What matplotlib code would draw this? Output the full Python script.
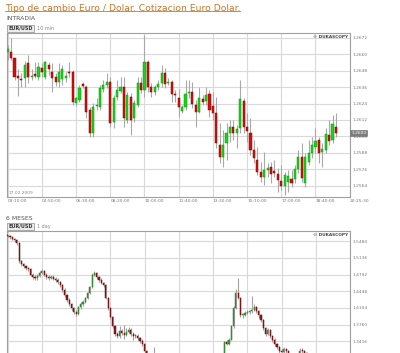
import matplotlib
matplotlib.use("Agg")
import matplotlib.pyplot as plt
import matplotlib.transforms as mtrans
from matplotlib.lines import Line2D
import numpy as np

# ---------------- INTRADIA: EUR/USD 10 min candles ----------------
intra_open = [1.26620, 1.26620, 1.26571, 1.26442, 1.26422, 1.26425, 1.26534, 1.26432, 1.26454, 1.26437,
              1.26503, 1.26437, 1.26522, 1.26473, 1.26432, 1.26400, 1.26417, 1.26430, 1.26473, 1.26473,
              1.26242, 1.26266, 1.26383, 1.26364, 1.26193, 1.26027, 1.26222, 1.26217, 1.26347, 1.26376,
              1.26400, 1.26108, 1.26291, 1.26335, 1.26359, 1.26120, 1.26291, 1.26132, 1.26230, 1.26393,
              1.26339, 1.26542, 1.26359, 1.26327, 1.26359, 1.26388, 1.26461, 1.26393, 1.26400, 1.26310,
              1.26278, 1.26188, 1.26213, 1.26315, 1.26322, 1.26230, 1.26181, 1.26271, 1.26261, 1.26310,
              1.26222, 1.26169, 1.25937, 1.25847, 1.25950, 1.26027, 1.26071, 1.26023, 1.26059, 1.26259,
              1.26071, 1.26027, 1.25901, 1.25828, 1.25742, 1.25701, 1.25754, 1.25779, 1.25750, 1.25725,
              1.25676, 1.25640, 1.25669, 1.25689, 1.25686, 1.25759, 1.25852, 1.25657, 1.25815, 1.25876,
              1.25925, 1.25974, 1.25888, 1.25901, 1.26010, 1.25974, 1.26071]
intra_high = [1.26668, 1.26717, 1.26576, 1.26490, 1.26461, 1.26554, 1.26595, 1.26490, 1.26546, 1.26546,
              1.26534, 1.26549, 1.26546, 1.26534, 1.26466, 1.26534, 1.26522, 1.26473, 1.26546, 1.26486,
              1.26291, 1.26376, 1.26400, 1.26376, 1.26217, 1.26242, 1.26278, 1.26376, 1.26412, 1.26461,
              1.26437, 1.26303, 1.26412, 1.26437, 1.26437, 1.26327, 1.26315, 1.26266, 1.26437, 1.26437,
              1.26741, 1.26559, 1.26388, 1.26376, 1.26412, 1.26522, 1.26498, 1.26425, 1.26412, 1.26339,
              1.26344, 1.26230, 1.26412, 1.26412, 1.26400, 1.26266, 1.26364, 1.26303, 1.26364, 1.26339,
              1.26327, 1.26291, 1.26096, 1.26047, 1.26096, 1.26120, 1.26120, 1.26084, 1.26412, 1.26278,
              1.26169, 1.26132, 1.25974, 1.25925, 1.25815, 1.25888, 1.25803, 1.25815, 1.25828, 1.25767,
              1.25791, 1.25742, 1.25754, 1.25754, 1.25791, 1.25901, 1.25949, 1.25876, 1.25974, 1.25998,
              1.26059, 1.25998, 1.25949, 1.26059, 1.26120, 1.26157, 1.26169]
intra_low = [1.26559, 1.26559, 1.26412, 1.26296, 1.26359, 1.26364, 1.26388, 1.26412, 1.26425, 1.26412,
             1.26437, 1.26417, 1.26449, 1.26327, 1.26369, 1.26359, 1.26376, 1.26400, 1.26437, 1.26230,
             1.26222, 1.26254, 1.26352, 1.26132, 1.25998, 1.25998, 1.26193, 1.26193, 1.26327, 1.26352,
             1.26071, 1.26059, 1.26266, 1.26315, 1.26071, 1.26096, 1.26010, 1.26108, 1.26217, 1.26315,
             1.26291, 1.26327, 1.26291, 1.26303, 1.26339, 1.26364, 1.26352, 1.26376, 1.26254, 1.26254,
             1.26144, 1.26169, 1.26193, 1.26278, 1.26205, 1.26071, 1.26169, 1.26230, 1.26230, 1.26144,
             1.26120, 1.25913, 1.25803, 1.25779, 1.25828, 1.25962, 1.25974, 1.25913, 1.26023, 1.26023,
             1.25962, 1.25864, 1.25803, 1.25718, 1.25669, 1.25645, 1.25706, 1.25657, 1.25706, 1.25596,
             1.25608, 1.25572, 1.25596, 1.25633, 1.25657, 1.25730, 1.25669, 1.25633, 1.25791, 1.25840,
             1.25876, 1.25803, 1.25779, 1.25876, 1.25937, 1.25950, 1.25998]
intra_close = [1.26637, 1.26571, 1.26437, 1.26430, 1.26412, 1.26522, 1.26437, 1.26442, 1.26444, 1.26505,
               1.26473, 1.26542, 1.26493, 1.26430, 1.26400, 1.26473, 1.26490, 1.26437, 1.26461, 1.26254,
               1.26278, 1.26352, 1.26369, 1.26181, 1.26027, 1.26213, 1.26230, 1.26352, 1.26376, 1.26400,
               1.26096, 1.26278, 1.26339, 1.26359, 1.26132, 1.26303, 1.26120, 1.26242, 1.26393, 1.26339,
               1.26542, 1.26364, 1.26327, 1.26359, 1.26383, 1.26466, 1.26383, 1.26400, 1.26310, 1.26303,
               1.26213, 1.26213, 1.26310, 1.26322, 1.26237, 1.26176, 1.26278, 1.26254, 1.26303, 1.26193,
               1.26174, 1.25950, 1.25852, 1.25937, 1.26027, 1.26071, 1.26023, 1.26052, 1.26271, 1.26071,
               1.26042, 1.25901, 1.25840, 1.25742, 1.25706, 1.25754, 1.25767, 1.25725, 1.25730, 1.25681,
               1.25640, 1.25718, 1.25713, 1.25662, 1.25759, 1.25852, 1.25694, 1.25852, 1.25876, 1.25937,
               1.25969, 1.25881, 1.25906, 1.26018, 1.25969, 1.26088, 1.26027]
intra_times = ["03:10:00", "04:50:00", "06:30:00", "08:20:00", "10:00:00", "11:40:00",
               "13:30:00", "15:10:00", "17:00:00", "18:40:00", "20:25:30"]
intra_yticks = [1.2564, 1.2576, 1.2588, 1.2600, 1.2612, 1.2624, 1.2636, 1.2648, 1.2660, 1.2672]
intra_date = "17.02.2009"
last_quote = "1.2603"

# ---------------- 6 MESES: EUR/USD daily candles ----------------
daily_first_open = 1.5600
daily_close = [1.5583, 1.5562, 1.5528, 1.5500, 1.5445, 1.5067, 1.5012, 1.4964, 1.4929, 1.4909,
               1.4792, 1.4744, 1.4723, 1.4771, 1.4826, 1.4861, 1.4792, 1.4737, 1.4723, 1.4751,
               1.4709, 1.4689, 1.4640, 1.4572, 1.4482, 1.4379, 1.4276, 1.4186, 1.4104, 1.4021,
               1.3980, 1.4118, 1.4186, 1.4228, 1.4310, 1.4413, 1.4530, 1.4792, 1.4826, 1.4737,
               1.4689, 1.4620, 1.4572, 1.4310, 1.4104, 1.3911, 1.3725, 1.3567, 1.3519, 1.3622,
               1.3588, 1.3553, 1.3608, 1.3657, 1.3567, 1.3519, 1.3533, 1.3485, 1.3430, 1.3361,
               1.3209, 1.3050, 1.2900, 1.2950, 1.2850, 1.2700, 1.2600, 1.2750, 1.2650, 1.2500,
               1.2550, 1.2700, 1.2800, 1.2900, 1.2750, 1.2600, 1.2500, 1.2450, 1.2550, 1.2650,
               1.2700, 1.2600, 1.2550, 1.2700, 1.2750, 1.2650, 1.2600, 1.2700, 1.2800, 1.2750,
               1.2900, 1.2950, 1.2850, 1.3000, 1.3100, 1.3400, 1.3370, 1.3450, 1.3725, 1.4104,
               1.4413, 1.4310, 1.3952, 1.3966, 1.4001, 1.4021, 1.4035, 1.4069, 1.4131, 1.4049,
               1.3952, 1.3863, 1.3691, 1.3567, 1.3657, 1.3519, 1.3450, 1.3361, 1.3292, 1.3223,
               1.3196, 1.3264, 1.3209, 1.3154, 1.3050, 1.2950, 1.3000, 1.3100, 1.3223, 1.3209,
               1.3175, 1.3000, 1.2950, 1.2900, 1.2850, 1.2950, 1.2900, 1.2850, 1.2800, 1.2850,
               1.2950, 1.2900, 1.2850, 1.2800, 1.2700]
daily_high = [1.5617, 1.5610, 1.5580, 1.5550, 1.5520, 1.5460, 1.5100, 1.5040, 1.5000, 1.4960,
              1.4930, 1.4820, 1.4790, 1.4800, 1.4860, 1.4900, 1.4880, 1.4830, 1.4780, 1.4790,
              1.4780, 1.4750, 1.4720, 1.4670, 1.4600, 1.4510, 1.4400, 1.4300, 1.4210, 1.4130,
              1.4060, 1.4150, 1.4220, 1.4260, 1.4340, 1.4440, 1.4560, 1.4820, 1.4867, 1.4850,
              1.4770, 1.4720, 1.4650, 1.4600, 1.4340, 1.4130, 1.3940, 1.3750, 1.3600, 1.3730,
              1.3660, 1.3760, 1.3700, 1.3720, 1.3690, 1.3600, 1.3570, 1.3560, 1.3510, 1.3460,
              1.3390, 1.3230, 1.3080, 1.3050, 1.3300, 1.2880, 1.2750, 1.2800, 1.2790, 1.2680,
              1.2600, 1.2750, 1.2850, 1.2960, 1.2920, 1.2780, 1.2630, 1.2540, 1.2600, 1.2700,
              1.2760, 1.2730, 1.2640, 1.2750, 1.2800, 1.2780, 1.2690, 1.2750, 1.2850, 1.2840,
              1.2950, 1.3000, 1.2980, 1.3050, 1.3150, 1.3420, 1.3440, 1.3480, 1.3760, 1.4140,
              1.4500, 1.4723, 1.4330, 1.4000, 1.4040, 1.4060, 1.4070, 1.4345, 1.4180, 1.4150,
              1.4070, 1.3980, 1.3880, 1.3720, 1.3700, 1.3680, 1.3540, 1.3480, 1.3390, 1.3320,
              1.3250, 1.3300, 1.3280, 1.3230, 1.3170, 1.3080, 1.3060, 1.3160, 1.3270, 1.3280,
              1.3240, 1.3200, 1.3050, 1.3000, 1.2950, 1.3000, 1.2990, 1.2940, 1.2890, 1.2900,
              1.3000, 1.2990, 1.2940, 1.2890, 1.2850]
daily_low = [1.5560, 1.5530, 1.5500, 1.5470, 1.5410, 1.5030, 1.4980, 1.4930, 1.4890, 1.4870,
             1.4760, 1.4700, 1.4680, 1.4690, 1.4740, 1.4800, 1.4760, 1.4700, 1.4690, 1.4700,
             1.4680, 1.4650, 1.4600, 1.4530, 1.4440, 1.4340, 1.4230, 1.4140, 1.4060, 1.3980,
             1.3940, 1.3960, 1.4080, 1.4150, 1.4200, 1.4280, 1.4390, 1.4510, 1.4760, 1.4700,
             1.4650, 1.4590, 1.4540, 1.4280, 1.4070, 1.3880, 1.3690, 1.3530, 1.3480, 1.3490,
             1.3550, 1.3470, 1.3520, 1.3580, 1.3530, 1.3440, 1.3490, 1.3450, 1.3390, 1.3320,
             1.3150, 1.3000, 1.2850, 1.2870, 1.2800, 1.2650, 1.2550, 1.2580, 1.2600, 1.2450,
             1.2430, 1.2520, 1.2680, 1.2780, 1.2700, 1.2560, 1.2450, 1.2400, 1.2420, 1.2530,
             1.2620, 1.2560, 1.2500, 1.2530, 1.2680, 1.2600, 1.2550, 1.2580, 1.2680, 1.2700,
             1.2730, 1.2870, 1.2800, 1.2830, 1.2980, 1.3080, 1.3340, 1.3340, 1.3440, 1.3700,
             1.4080, 1.4280, 1.3920, 1.3900, 1.3940, 1.3980, 1.3990, 1.4010, 1.4040, 1.4000,
             1.3900, 1.3820, 1.3650, 1.3520, 1.3540, 1.3480, 1.3400, 1.3320, 1.3250, 1.3180,
             1.3150, 1.3170, 1.3160, 1.3100, 1.3000, 1.2900, 1.2920, 1.3020, 1.3080, 1.3160,
             1.3120, 1.2950, 1.2900, 1.2850, 1.2800, 1.2820, 1.2850, 1.2800, 1.2750, 1.2780,
             1.2820, 1.2850, 1.2800, 1.2750, 1.2650]
daily_yticks = [1.3416, 1.3760, 1.4104, 1.4448, 1.4792, 1.5136, 1.5480]

title = "Tipo de cambio Euro / Dolar. Cotizacion Euro Dolar."

W, H = 400, 353
fig = plt.figure(figsize=(W / 100, H / 100), dpi=100)
fig.patch.set_facecolor("white")


def fx(x):
    return x / W


def fy(y):
    return 1 - y / H


GRID = "#d9d9d9"
FRAME = "#a0a0a0"
TICK = "#7a7a7a"


def draw_candles(ax, o, h, l, c, width, up, up_edge, down, down_edge, wick, min_body):
    o, h, l, c = (np.asarray(v, dtype=float) for v in (o, h, l, c))
    x = np.arange(len(c))
    ax.vlines(x, l, h, color=wick, lw=0.8, zorder=2)
    rising = c >= o
    body = np.maximum(np.abs(c - o), min_body)
    ax.bar(x, body, bottom=np.minimum(o, c), width=width,
           color=np.where(rising, up, down), edgecolor=np.where(rising, up_edge, down_edge),
           lw=0.35, zorder=3)


def style_axes(ax):
    for s in ax.spines.values():
        s.set_color(FRAME)
        s.set_linewidth(0.8)
    ax.grid(True, color=GRID, lw=0.8)
    ax.set_axisbelow(True)
    ax.yaxis.tick_right()
    ax.tick_params(axis="both", length=0, labelsize=3.2, labelcolor=TICK)
    ax.tick_params(axis="y", pad=1.5)
    ax.set_yticklabels([f"{v:.4f}" for v in ax.get_yticks()])
    ax.text(0.995, 0.99, "\u00a9 DUKASCOPY", transform=ax.transAxes, ha="right", va="top",
            fontsize=3.1, fontweight="bold", color="#444444", zorder=5)


# ---- header ----
t = fig.text(fx(5), fy(8.5), title, fontsize=6.7, color="#c8792c", va="center", ha="left")
fig.canvas.draw()
bb = t.get_window_extent()
fig.add_artist(Line2D([bb.x0 / W, bb.x1 / W], [fy(11.2), fy(11.2)], transform=fig.transFigure,
                      color="#c8792c", lw=0.6))


def chart_header(y_label, label, y_box, period):
    fig.text(fx(6), fy(y_label), label, fontsize=4.4, color="#555555", va="center", ha="left")
    fig.text(fx(8.5), fy(y_box), "EUR/USD", fontsize=3.5, fontweight="bold", color="#333333",
             va="center", ha="left",
             bbox=dict(boxstyle="square,pad=0.25", fc="#ececec", ec="#8c8c8c", lw=0.5))
    fig.text(fx(37), fy(y_box), period, fontsize=3.5, color="#8a8a8a", va="center", ha="left")


chart_header(19, "INTRADIA", 28.5, "10 min")
chart_header(219, "6 MESES", 226.5, "1 day")

# ---- intradía chart ----
ax1 = fig.add_axes([fx(7), fy(197), 343 / W, 164 / H])
draw_candles(ax1, intra_open, intra_high, intra_low, intra_close, 0.62,
             "#19d419", "#0a9a0a", "#d40f0f", "#8e0000", "#a9a9a9", 0.00008)
ax1.set_xlim(-0.2, 100.1)
ax1.set_ylim(1.25557, 1.26756)
ax1.set_yticks(intra_yticks)
ax1.set_xticks(range(0, 101, 10))
ax1.set_xticklabels(intra_times, ha="left")
style_axes(ax1)
ax1.tick_params(axis="x", pad=1.5)
ax1.text(0.003, 0.012, intra_date, transform=ax1.transAxes, ha="left", va="bottom",
         fontsize=3.2, color="#8a8a8a")
blend = mtrans.blended_transform_factory(ax1.transAxes, ax1.transData)
ax1.text(1.004, intra_close[-1], last_quote, transform=blend, ha="left", va="center",
         fontsize=3.2, color="white", clip_on=False, zorder=6,
         bbox=dict(boxstyle="square,pad=0.2", fc="#7d7d7d", ec="#6a6a6a", lw=0.4))

# ---- 6 meses chart (runs past the bottom of the image) ----
daily_open = [daily_first_open] + daily_close[:-1]
ax2 = fig.add_axes([fx(7), fy(395), 343 / W, 164 / H])
draw_candles(ax2, daily_open, daily_high, daily_low, daily_close, 0.5,
             "#3a9a3a", "#2e7d2e", "#8a1a1a", "#6a1010", "#a9a0a0", 0.0018)
ax2.set_xlim(-0.3, 150.0)
ax2.set_ylim(1.2308, 1.5693)
ax2.set_yticks(daily_yticks)
ax2.set_xticks(range(0, 151, 15))
style_axes(ax2)
ax2.tick_params(axis="x", labelbottom=False)

fig.savefig("out.png", dpi=100, facecolor="white")
